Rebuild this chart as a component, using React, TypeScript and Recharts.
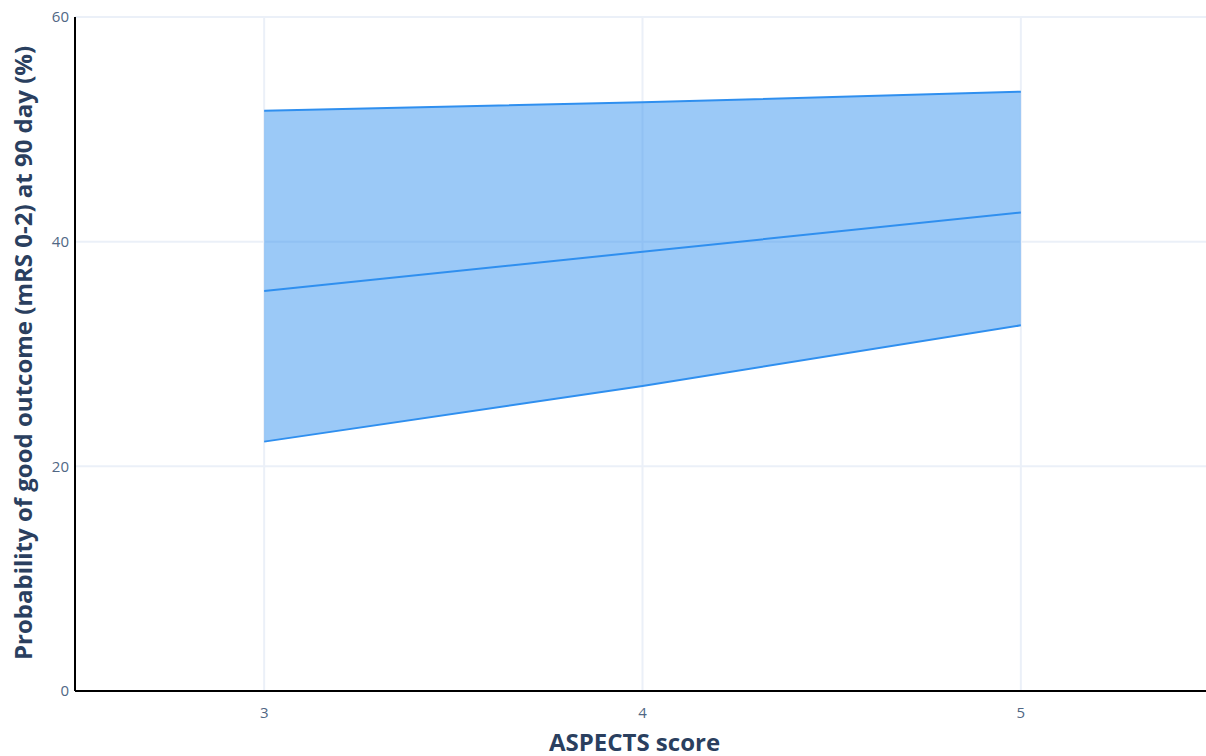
import {
  ComposedChart,
  Area,
  Line,
  XAxis,
  YAxis,
  CartesianGrid,
} from 'recharts';

const aspects = [3, 4, 5];
const estimate = [35.6, 39.1, 42.6];
const lowerCI = [22.2, 27.15, 32.55];
const upperCI = [51.65, 52.4, 53.35];
const xTicks = [3, 4, 5];
const yTicks = [0, 20, 40, 60];

const data = aspects.map((a, i) => ({
  x: a,
  est: estimate[i],
  lo: lowerCI[i],
  hi: upperCI[i],
  band: [lowerCI[i], upperCI[i]],
}));

const blue = '#2f8fef';
const titleColor = '#2a3f5f';
const tickColor = '#506784';
const font = '"Open Sans", "Noto Sans", sans-serif';

const YTitle = (props: any) => {
  const vb = props.viewBox || {};
  const cx = 22;
  const cy = vb.y + vb.height / 2 - 1;
  return (
    <text
      x={cx}
      y={cy}
      transform={`rotate(-90, ${cx}, ${cy})`}
      textAnchor="middle"
      dominantBaseline="central"
      fill={titleColor}
      fontSize={24}
      fontWeight="bold"
      fontFamily={font}
    >
      Probability of good outcome (mRS 0-2) at 90 day (%)
    </text>
  );
};

const XTitle = (props: any) => {
  const vb = props.viewBox || {};
  const cx = vb.x + vb.width / 2 - 8;
  return (
    <text
      x={cx}
      y={741}
      textAnchor="middle"
      dominantBaseline="central"
      fill={titleColor}
      fontSize={24}
      fontWeight="bold"
      fontFamily={font}
    >
      ASPECTS score
    </text>
  );
};

export default function App() {
  return (
    <div
      style={{
        position: 'absolute',
        left: 0,
        top: 0,
        width: 1206,
        height: 756,
        overflow: 'hidden',
        fontFamily: font,
      }}
    >
      <ComposedChart
        width={1210}
        height={756}
        data={data}
        margin={{ top: 17, right: 0, bottom: 5, left: 8 }}
      >
        <CartesianGrid stroke="#ebf0f8" strokeWidth={2} />
        <XAxis
          dataKey="x"
          type="number"
          domain={[2.5, 5.5]}
          ticks={xTicks}
          height={60}
          tickLine={false}
          tickSize={0}
          tickMargin={16}
          axisLine={{ stroke: '#000', strokeWidth: 2 }}
          tick={{ fill: tickColor, fontSize: 15, fontFamily: font }}
          label={<XTitle />}
        />
        <YAxis
          type="number"
          domain={[0, 60]}
          ticks={yTicks}
          width={67}
          tickLine={false}
          tickSize={0}
          tickMargin={6}
          axisLine={{ stroke: '#000', strokeWidth: 2 }}
          tick={{ fill: tickColor, fontSize: 15, fontFamily: font }}
          label={<YTitle />}
        />
        <Area
          type="linear"
          dataKey="band"
          stroke="none"
          fill={blue}
          fillOpacity={0.48}
          isAnimationActive={false}
        />
        <Line type="linear" dataKey="hi" stroke={blue} strokeWidth={2} dot={false} isAnimationActive={false} />
        <Line type="linear" dataKey="est" stroke={blue} strokeWidth={2} dot={false} isAnimationActive={false} />
        <Line type="linear" dataKey="lo" stroke={blue} strokeWidth={2} dot={false} isAnimationActive={false} />
      </ComposedChart>
    </div>
  );
}
